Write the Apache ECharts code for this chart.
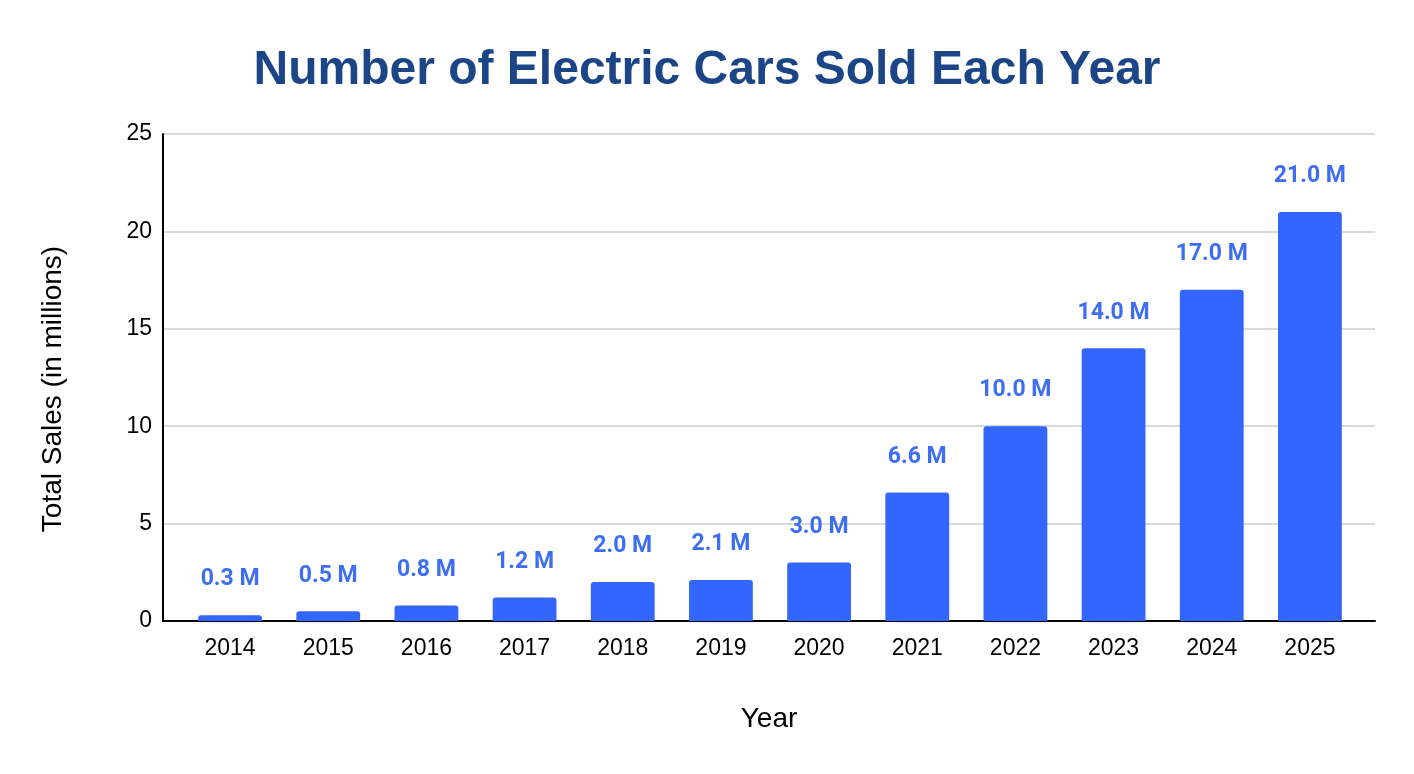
<!DOCTYPE html>
<html>
<head>
<meta charset="utf-8">
<script src="https://cdn.jsdelivr.net/npm/echarts@6/dist/echarts.min.js"></script>
<style>
html,body{margin:0;padding:0;background:#fff;}
#chart{width:1414px;height:774px;}
</style>
</head>
<body>
<div id="chart"></div>
<script>
const years = ['2014','2015','2016','2017','2018','2019','2020','2021','2022','2023','2024','2025'];
const sales = [0.3, 0.5, 0.8, 1.2, 2.0, 2.1, 3.0, 6.6, 10.0, 14.0, 17.0, 21.0];
const yTicks = [0, 5, 10, 15, 20, 25];

const FONT = '"Liberation Sans", Arial, sans-serif';
const yMin = yTicks[0], yMax = yTicks[yTicks.length - 1], yStep = yTicks[1] - yTicks[0];

const chart = echarts.init(document.getElementById('chart'));
chart.setOption({
  backgroundColor: '#ffffff',
  title: {
    text: 'Number of Electric Cars Sold Each Year',
    left: 'center',
    top: 42,
    textStyle: { fontFamily: FONT, fontSize: 48, fontWeight: 'bold', color: '#1c4587' }
  },
  grid: [
    { left: 163, right: 39, top: 134, bottom: 153 },
    { left: 181, right: 55, top: 134, bottom: 153 }
  ],
  xAxis: [
    {
      gridIndex: 0,
      type: 'value',
      min: 0, max: 1,
      name: 'Year',
      nameLocation: 'middle',
      nameGap: 84,
      nameTextStyle: { fontFamily: FONT, fontSize: 28, color: '#000' },
      axisLine: { show: true, lineStyle: { color: '#000', width: 2 } },
      axisTick: { show: false },
      axisLabel: { show: false },
      splitLine: { show: false }
    },
    {
      gridIndex: 1,
      type: 'category',
      data: years,
      axisLine: { show: false },
      axisTick: { show: false },
      axisLabel: { fontFamily: FONT, fontSize: 23, color: '#000', margin: 16 }
    }
  ],
  yAxis: [
    {
      gridIndex: 0,
      type: 'value',
      min: yMin, max: yMax, interval: yStep,
      name: 'Total Sales (in millions)',
      nameLocation: 'middle',
      nameGap: 96,
      nameTextStyle: { fontFamily: FONT, fontSize: 28, color: '#000', padding: [0, 23, 0, 0] },
      axisLine: { show: true, lineStyle: { color: '#000', width: 2 } },
      axisTick: { show: false },
      axisLabel: { fontFamily: FONT, fontSize: 23, color: '#000', margin: 11 },
      splitLine: { lineStyle: { color: '#cccccc', width: 1.5 } }
    },
    {
      gridIndex: 1,
      type: 'value',
      min: yMin, max: yMax, interval: yStep,
      axisLine: { show: false },
      axisTick: { show: false },
      axisLabel: { show: false },
      splitLine: { show: false }
    }
  ],
  series: [{
    type: 'bar',
    xAxisIndex: 1,
    yAxisIndex: 1,
    data: sales,
    barWidth: '65%',
    itemStyle: { color: '#3366ff', borderRadius: [3, 3, 0, 0] },
    label: {
      show: true,
      position: 'top',
      distance: 24,
      formatter: p => p.value.toFixed(1) + ' M',
      fontFamily: 'Roboto, sans-serif',
      fontSize: 23,
      fontWeight: 'bold',
      color: '#3d6ef2'
    }
  }]
});
</script>
</body>
</html>
